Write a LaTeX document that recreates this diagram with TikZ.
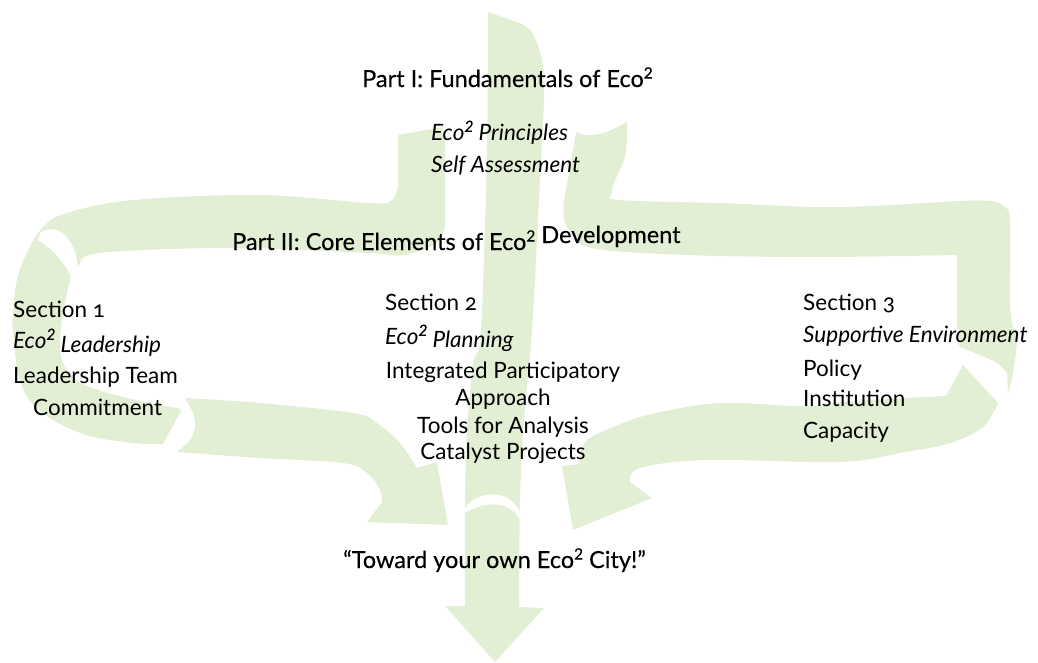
\documentclass[tikz,border=0pt]{standalone}
\usepackage{fontspec}
\setmainfont{Lato}[Numbers=OldStyle]
\newfontfamily\headfont{Lato}[FakeBold=0.35]
\newcommand\sqr{\raisebox{0.36em}{\headfont\fontsize{15.5}{15}\selectfont\addfontfeatures{Numbers=Lining}2}}
\definecolor{leaf}{RGB}{227,239,212}
\begin{document}
\begin{tikzpicture}[x=1pt,y=-1pt,
  band/.style={fill=leaf,draw=none},
  gap/.style={fill=white,draw=none},
  txt/.style={anchor=base west,inner sep=0pt,font=\fontsize{22.5}{26}\selectfont},
  ctxt/.style={anchor=base,inner sep=0pt,font=\fontsize{22.5}{26}\selectfont},
  headtxt/.style={anchor=base west,inner sep=0pt,font=\fontsize{23.5}{26}\selectfont\headfont}]
\useasboundingbox (0,0) rectangle (1038,662);

% central shaft
\fill[band] plot[smooth] coordinates {(488,12) (487,150) (481,331) (473,364) (467,431) (465,498) (465,606)}
  -- (445,606) -- (495,662) -- (544,608) -- (519,607)
  -- plot[smooth] coordinates {(519,607) (520,500) (524,420) (532,331) (539,200) (544,100) (542,60) (532,32) (519,23)} -- cycle;
\fill[gap] (463,510) .. controls (475,492) and (508,485) .. (521,514) -- (521,522) .. controls (512,500) and (485,500) .. (463,514) -- cycle;

% left loop
\fill[band] (398,135) -- (443,127) -- (445,140)
  -- plot[smooth,tension=0.6] coordinates {(445,215) (440,240) (405,255) (367,253) (233,248) (100,253) (78,267) (71,277) (63,313) (60,347) (65,367) (83,384) (127,398) (182,409)}
  -- plot[smooth,tension=0.6] coordinates {(163,444) (133,443) (83,434) (40,411) (20,381) (13,331) (13,313) (17,280) (27,253) (43,227) (67,213) (133,200) (260,195) (370,203) (392,200) (398,185)} -- cycle;
\fill[gap] (40,233) .. controls (55,222) and (76,236) .. (78,268) -- (72,278) .. controls (62,258) and (50,248) .. (38,240) -- cycle;

% left arrow
\fill[band] plot[smooth,tension=0.6] coordinates {(185,398) (260,403) (353,413) (377,423) (400,443) (417,468)}
  -- (437,462) -- (448,525) -- (367,522)
  -- plot[smooth,tension=0.6] coordinates {(382,502) (380,490) (367,473) (343,463) (260,458) (177,452)}
  -- plot[smooth] coordinates {(177,452) (190,440) (195,427) (193,413) (185,398)} -- cycle;

% right loop
\fill[band] (576,132) .. controls (585,137) and (600,138) .. (627,122)
  -- plot[smooth,tension=0.6] coordinates {(627,140) (624,160) (614,183) (612,193) (619,200) (719,203) (836,207) (960,201) (990,201) (1005,207) (1010,222) (1010,300) (1013,327) (1017,340) (1013,373) (1008,393)}
  -- plot[smooth] coordinates {(1007,373) (997,363) (987,358) (960,347)}
  -- (957,340) -- (957,255)
  -- plot[smooth,tension=0.6] coordinates {(956,255) (819,257) (686,255) (592,248) (569,230) (564,217) (564,200) (569,173) (576,132)} -- cycle;

% right arrow
\fill[band] (963,365) -- (998,403)
  -- plot[smooth,tension=0.6] coordinates {(998,403) (983,427) (950,443) (900,453) (840,462) (707,460) (640,468) (630,482)}
  -- (652,498) -- (573,530) -- (562,466)
  -- plot[smooth,tension=0.6] coordinates {(579,464) (586,441) (616,426) (652,414) (719,403) (802,406) (852,401) (946,396)} -- cycle;

% texts
\node[headtxt] (p1) at (362,87) {Part I: Fundamentals of Eco\sqr};
\node[txt] (pr) at (431,140) {\itshape Eco\sqr{} Principles};
\node[txt] (sa) at (431,172) {\itshape Self Assessment};
\node[headtxt] (p2) at (232,250) {Part II: Core Elements of Eco\sqr{} \raisebox{7pt}{Development}};

\node[txt] (s1) at (13,317) {Section 1};
\node[txt] (s1a) at (13,348) {\itshape Eco\sqr{} \raisebox{-4pt}{Leadership}};
\node[txt] (s1b) at (13,383) {Leadership Team};
\node[txt] (s1c) at (33,415) {Commitment};

\node[txt] (s2) at (385,310) {Section 2};
\node[txt] (s2a) at (385,344) {\itshape Eco\sqr{} \raisebox{-3pt}{Planning}};
\node[ctxt] (s2b) at (503,378) {Integrated Participatory};
\node[ctxt] (s2c) at (503,405) {Approach};
\node[ctxt] (s2d) at (503,433) {Tools for Analysis};
\node[ctxt] (s2e) at (503,459) {Catalyst Projects};

\node[txt] (s3) at (803,310) {Section 3};
\node[txt] (s3a) at (803,342) {\itshape Supportive Environment};
\node[txt] (s3b) at (803,376) {Policy};
\node[txt] (s3c) at (803,406) {Institution};
\node[txt] (s3d) at (803,438) {Capacity};

\node[headtxt] (goal) at (343,568) {“Toward your own Eco\sqr{} City!”};
\end{tikzpicture}
\end{document}
